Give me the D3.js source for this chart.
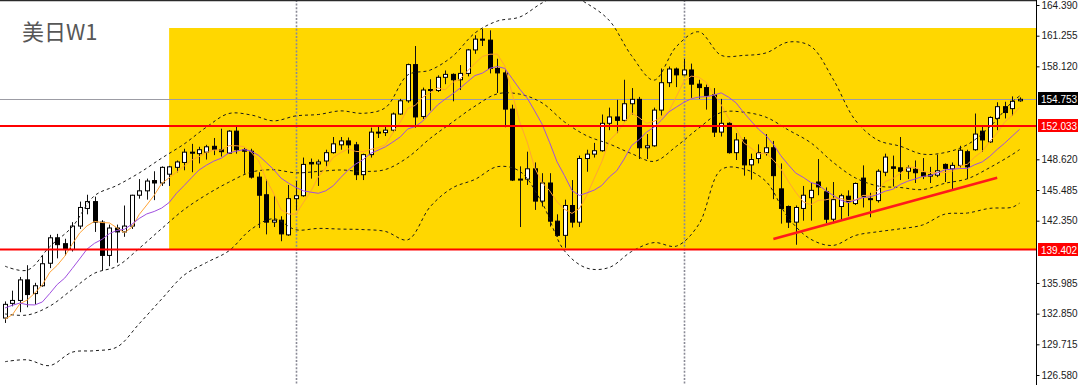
<!DOCTYPE html>
<html>
<head>
<meta charset="utf-8">
<script src="https://cdn.jsdelivr.net/npm/d3@7"></script>
<style>
  html, body { margin: 0; padding: 0; background: #ffffff; }
  svg { display: block; }
</style>
</head>
<body>
<svg id="chart" width="1080" height="385"></svg>
<script>
/*****************************************************************************
 *  USDJPY weekly candles (one bar per week, Apr 2023 -> Nov 2025)
 */
var opens = [132.4, 133.9, 134.2, 136.3, 134.9, 135.7, 138.0, 140.6, 140.0, 139.4,
    141.8, 143.6, 144.3, 142.2, 138.8, 141.6, 141.2, 141.8, 144.95, 145.4,
    146.45, 146.2, 147.1, 147.8, 148.3, 149.35, 149.2, 149.35, 149.95, 149.6,
    149.25, 151.5, 149.6, 149.45, 146.8, 145.0, 142.2, 142.4, 140.9, 144.6,
    144.9, 148.3, 148.15, 148.45, 149.3, 150.1, 150.5, 150.1, 147.05, 149.1,
    151.4, 151.35, 151.6, 153.25, 154.6, 158.3, 153.0, 155.75, 155.65, 157.0,
    157.3, 156.75, 157.4, 159.8, 160.9, 160.8, 157.9, 157.45, 153.75, 146.5,
    146.6, 147.65, 144.35, 146.2, 142.3, 140.85, 143.9, 142.2, 148.7, 149.15,
    149.5, 152.3, 152.95, 152.6, 154.3, 154.75, 149.8, 150.0, 153.65, 156.45,
    157.85, 157.25, 157.75, 156.3, 155.95, 155.2, 151.4, 152.3, 149.3, 150.6,
    148.05, 148.7, 149.3, 149.8, 145.6, 143.8, 142.2, 143.6, 144.7, 146.3,
    145.3, 142.5, 143.8, 144.85, 144.1, 146.7, 144.6, 144.4, 147.3, 147.85,
    147.75, 147.4, 147.6, 147.25, 146.9, 147.0, 148.1, 147.65, 148.0, 149.4,
    149.6, 151.5, 150.4, 152.8, 154.0, 153.8, 154.6];
var highs = [134.1, 135.2, 136.6, 137.8, 136.0, 138.8, 140.9, 141.0, 140.5, 142.2,
    144.3, 145.0, 144.8, 142.4, 141.95, 141.95, 143.9, 145.0, 146.6, 146.65,
    147.4, 147.9, 147.95, 148.5, 149.7, 150.2, 149.9, 150.1, 150.8, 151.75,
    151.6, 151.95, 149.8, 149.7, 147.3, 146.6, 144.95, 142.8, 146.0, 146.4,
    148.8, 148.7, 148.6, 149.6, 150.9, 150.9, 150.85, 150.4, 149.2, 151.86,
    151.97, 151.95, 153.4, 154.8, 158.4, 160.2, 155.95, 156.8, 157.2, 157.7,
    157.4, 158.25, 159.9, 161.3, 161.95, 161.8, 158.9, 157.8, 154.2, 147.9,
    149.4, 148.3, 147.2, 147.2, 143.0, 144.5, 146.5, 149.0, 149.6, 150.3,
    153.2, 153.9, 154.7, 156.75, 155.9, 155.0, 151.2, 153.9, 157.9, 158.1,
    158.0, 158.88, 158.4, 156.75, 156.25, 155.9, 154.8, 152.4, 151.3, 150.9,
    149.2, 150.15, 151.2, 150.5, 148.2, 143.9, 143.9, 145.9, 146.2, 148.65,
    145.75, 146.3, 145.1, 145.45, 146.25, 148.0, 145.2, 147.6, 149.2, 149.0,
    150.9, 148.0, 148.5, 148.75, 147.85, 149.1, 148.2, 148.3, 150.0, 149.6,
    153.3, 152.0, 153.0, 154.45, 154.5, 155.05, 154.95];
var lows = [131.9, 133.6, 133.0, 133.5, 133.8, 135.6, 137.5, 138.5, 138.8, 139.2,
    141.5, 143.0, 141.2, 137.25, 137.7, 138.05, 140.7, 141.5, 144.6, 144.5,
    144.45, 145.9, 145.9, 147.3, 147.5, 147.3, 148.2, 148.6, 149.05, 148.9,
    149.2, 149.2, 147.15, 146.65, 141.6, 140.95, 141.7, 140.25, 140.8, 143.4,
    144.8, 146.65, 145.9, 147.85, 149.2, 149.6, 149.2, 146.5, 146.5, 148.8,
    150.8, 151.0, 151.4, 153.15, 154.4, 151.86, 152.75, 153.6, 155.5, 156.3,
    154.55, 155.7, 157.1, 159.4, 160.2, 157.4, 155.4, 151.9, 146.4, 141.7,
    146.0, 143.45, 143.8, 141.75, 140.7, 139.58, 141.65, 141.7, 147.35, 148.8,
    149.4, 151.6, 151.3, 152.5, 153.2, 148.65, 148.65, 149.9, 153.1, 156.0,
    156.0, 157.2, 154.9, 154.8, 153.7, 150.9, 150.95, 149.2, 148.55, 146.95,
    146.55, 148.2, 149.0, 144.55, 142.05, 141.6, 139.89, 142.35, 142.35, 144.95,
    142.1, 142.1, 142.4, 142.8, 143.95, 143.7, 142.7, 144.2, 146.9, 145.85,
    146.5, 146.6, 146.2, 146.6, 146.2, 146.8, 146.3, 145.5, 147.8, 146.6,
    149.5, 149.4, 150.3, 151.6, 152.8, 153.1, 154.5];
var closes = [133.8, 134.2, 136.3, 134.8, 135.7, 137.95, 140.6, 139.9, 139.4, 141.8,
    143.7, 144.3, 142.2, 138.8, 141.6, 141.2, 141.8, 144.95, 145.4, 146.4,
    146.2, 147.8, 147.85, 148.35, 149.35, 149.3, 149.6, 149.9, 149.65, 149.4,
    151.5, 149.6, 149.45, 146.8, 144.95, 142.2, 142.4, 141.0, 144.6, 144.9,
    148.1, 148.15, 148.35, 149.3, 150.2, 150.5, 150.1, 147.05, 149.1, 151.4,
    151.35, 151.6, 153.25, 154.6, 158.3, 152.95, 155.7, 155.65, 157.0, 157.3,
    156.75, 157.4, 159.8, 160.9, 160.8, 157.9, 157.45, 153.75, 146.5, 146.6,
    147.65, 144.35, 146.2, 142.3, 140.85, 143.9, 142.2, 148.7, 149.15, 149.5,
    152.3, 152.95, 152.6, 154.3, 154.75, 149.8, 150.0, 153.65, 156.45, 157.85,
    157.25, 157.75, 156.3, 155.95, 155.15, 151.4, 152.3, 149.3, 150.6, 148.05,
    148.6, 149.3, 149.8, 146.95, 143.6, 142.2, 143.7, 144.95, 145.45, 145.8,
    142.5, 144.5, 144.9, 144.3, 146.15, 144.8, 144.5, 147.4, 148.85, 147.7,
    147.4, 147.75, 147.25, 146.9, 147.05, 147.45, 147.7, 148.0, 149.55, 147.85,
    151.2, 150.6, 152.9, 154.0, 153.4, 154.55, 154.753];

// Moving averages drawn on the chart (orange = fast, purple = slow)
var maFast = [132.28, 132.75, 133.86, 134.25, 134.96, 135.79, 137.07, 137.79, 138.71, 139.93,
    141.08, 141.82, 142.28, 142.16, 142.12, 141.62, 141.12, 141.67, 142.99, 143.95,
    144.95, 146.15, 146.73, 147.32, 147.91, 148.53, 148.89, 149.30, 149.56, 149.57,
    150.01, 150.01, 149.92, 149.35, 148.46, 146.60, 145.16, 143.47, 143.03, 143.02,
    144.20, 145.35, 146.82, 147.76, 148.82, 149.30, 149.69, 149.43, 149.39, 149.63,
    149.80, 150.10, 151.34, 152.44, 153.82, 154.14, 154.96, 155.44, 155.92, 155.72,
    156.48, 156.82, 157.65, 158.43, 159.13, 159.36, 159.37, 158.16, 155.28, 152.44,
    150.39, 147.77, 146.26, 145.42, 144.27, 143.52, 143.09, 143.59, 144.96, 146.69,
    148.37, 150.52, 151.30, 152.33, 153.38, 152.88, 152.29, 152.50, 152.93, 153.55,
    155.04, 156.59, 157.12, 157.02, 156.48, 155.31, 154.22, 152.82, 151.75, 150.33,
    149.77, 149.17, 149.27, 148.54, 147.65, 146.37, 145.25, 144.28, 143.98, 144.42,
    144.48, 144.64, 144.63, 144.40, 144.47, 144.93, 144.93, 145.43, 146.34, 146.65,
    147.17, 147.82, 147.79, 147.40, 147.27, 147.28, 147.27, 147.42, 147.95, 148.11,
    148.86, 149.44, 150.42, 151.31, 152.42, 153.09, 153.92];
var maSlow = [133.43, 133.71, 133.93, 133.76, 133.74, 134.04, 134.91, 135.83, 136.48, 137.45,
    138.44, 139.45, 140.04, 140.44, 141.03, 141.35, 141.47, 141.98, 142.58, 143.04,
    143.29, 143.64, 144.20, 145.16, 145.93, 146.74, 147.52, 148.02, 148.44, 148.74,
    149.27, 149.45, 149.61, 149.46, 149.02, 148.31, 147.59, 146.70, 146.19, 145.74,
    145.40, 145.26, 145.15, 145.40, 145.92, 146.75, 147.52, 148.13, 148.58, 149.23,
    149.55, 149.90, 150.39, 150.92, 151.73, 151.97, 152.53, 153.39, 154.18, 154.77,
    155.31, 155.89, 156.55, 157.18, 157.43, 157.92, 158.10, 157.91, 156.86, 155.79,
    154.88, 153.57, 152.21, 150.35, 148.36, 146.96, 145.43, 144.93, 145.19, 145.48,
    145.95, 146.81, 147.45, 148.65, 150.04, 150.63, 151.41, 151.90, 152.63, 153.47,
    153.96, 154.44, 154.81, 154.98, 155.02, 155.18, 155.41, 154.97, 154.39, 153.41,
    152.54, 151.70, 151.05, 150.15, 148.99, 148.07, 147.21, 146.78, 146.26, 146.04,
    145.43, 144.95, 144.46, 144.19, 144.45, 144.71, 144.79, 145.03, 145.37, 145.56,
    146.05, 146.38, 146.61, 146.87, 146.96, 147.23, 147.55, 147.61, 147.68, 147.69,
    148.07, 148.36, 148.92, 149.63, 150.27, 150.98, 151.68];

// Bollinger band readings, every third bar
var bandBars = [0, 3, 6, 9, 12, 15, 18, 21, 24, 27, 30, 33, 36, 39, 42, 45, 48, 51, 54, 57,
    60, 63, 66, 69, 72, 75, 78, 81, 84, 87, 90, 93, 96, 99, 102, 105, 108, 111, 114, 117,
    120, 123, 126, 129, 132, 135, 136];
var bandUpper = [137.70, 137.29, 139.70, 141.71, 144.90, 145.95, 147.23, 148.74, 150.18, 151.91,
    153.30, 153.15, 152.55, 153.06, 153.20, 153.57, 153.32, 153.90, 157.24, 157.74,
    159.15, 161.53, 162.75, 163.16, 164.60, 165.62, 164.54, 162.81, 159.20, 156.71,
    160.15, 161.65, 159.25, 159.24, 159.49, 160.60, 160.18, 156.82, 152.60, 150.58,
    149.96, 149.15, 149.31, 150.12, 151.93, 154.48, 155.09];
var bandMid = [132.82, 132.71, 133.62, 135.31, 136.98, 137.69, 139.53, 141.54, 143.48, 145.00,
    146.28, 147.31, 147.55, 147.24, 147.38, 147.53, 147.38, 147.58, 148.82, 150.76,
    152.43, 154.05, 155.31, 155.28, 154.38, 152.44, 151.02, 150.19, 149.20, 148.41,
    149.95, 151.81, 153.41, 153.44, 152.93, 151.62, 150.32, 148.32, 146.72, 145.90,
    145.74, 145.53, 146.17, 146.63, 147.77, 149.10, 149.61];
var bandLower = [127.94, 128.13, 127.54, 128.91, 129.06, 129.43, 131.83, 134.34, 136.78, 138.07,
    139.26, 141.47, 142.55, 141.42, 141.56, 141.49, 141.44, 141.25, 140.40, 143.78,
    145.71, 146.57, 147.87, 147.40, 144.16, 139.26, 137.50, 137.57, 139.20, 140.11,
    139.75, 141.97, 147.57, 147.64, 146.37, 142.64, 140.46, 139.82, 140.84, 141.22,
    141.52, 141.91, 143.02, 143.13, 143.61, 143.72, 144.14];

// Axis labels (the ones hidden behind price tags are left out), levels and objects
var priceTicks = [164.390, 161.255, 158.120, 148.620, 145.485, 142.350,
    135.985, 132.850, 129.715, 126.580];
var levelPrices = [152.033, 139.402];
var lastPrice = 154.753;
var zoneBars = [22, 136];
var zonePrices = [162.04, 139.402];
var separatorBars = [39, 91];
var trendBars = [103, 133];
var trendPrices = [140.48, 146.74];
var chartTitle = "美日W1";

/*****************************************************************************
 *  Layout
 */
var CANVAS_WIDTH = 1080;
var CANVAS_HEIGHT = 385;
var PLOT_RIGHT = 1036;
var FIRST_BAR_X = 5;
var BAR_STEP = 7.46;
var BODY_WIDTH = 5;
var ZONE_COLOR = "#ffd700";
var LEVEL_COLOR = "#ff0000";
var FAST_MA_COLOR = "#ffa436";
var SLOW_MA_COLOR = "#a04fe0";
var BAND_COLOR = "#1a1a1a";
var AXIS_FONT = "'Liberation Sans', Arial, sans-serif";

var svg = d3.select("#chart");

var xScale = d3.scaleLinear()
    .domain([0, closes.length - 1])
    .range([FIRST_BAR_X, FIRST_BAR_X + (closes.length - 1) * BAR_STEP]);

var yScale = d3.scaleLinear()
    .domain([126.58, 164.39])
    .range([375, 5]);

function px(v) {
    return Math.round(v) + 0.5;
}

svg.append("rect")
    .attr("width", CANVAS_WIDTH)
    .attr("height", CANVAS_HEIGHT)
    .attr("fill", "#ffffff");

svg.append("clipPath")
    .attr("id", "plot-clip")
    .append("rect")
    .attr("x", 0)
    .attr("y", 0)
    .attr("width", PLOT_RIGHT)
    .attr("height", CANVAS_HEIGHT);

var plot = svg.append("g").attr("clip-path", "url(#plot-clip)");

// Render yellow range box
plot.append("rect")
    .attr("class", "zone")
    .attr("x", xScale(zoneBars[0]))
    .attr("y", yScale(zonePrices[0]))
    .attr("width", PLOT_RIGHT - xScale(zoneBars[0]))
    .attr("height", yScale(zonePrices[1]) - yScale(zonePrices[0]))
    .attr("fill", ZONE_COLOR);

// Render period separators
plot.selectAll(".separator")
    .data(separatorBars)
    .enter()
    .append("line")
    .attr("class", "separator")
    .attr("x1", d => px(xScale(d)))
    .attr("x2", d => px(xScale(d)))
    .attr("y1", 0)
    .attr("y2", CANVAS_HEIGHT)
    .attr("stroke", "#8a8a96")
    .attr("stroke-width", 1.6)
    .attr("stroke-dasharray", "2,1.6");

// Render last price line
plot.append("line")
    .attr("x1", 0)
    .attr("x2", PLOT_RIGHT)
    .attr("y1", px(yScale(lastPrice)))
    .attr("y2", px(yScale(lastPrice)))
    .attr("stroke", "#9c9ca4")
    .attr("stroke-width", 1);

// Render candles
var candles = closes.map((c, i) => ({ i: i, o: opens[i], h: highs[i], l: lows[i], c: c }));

plot.selectAll(".wick")
    .data(candles)
    .enter()
    .append("line")
    .attr("class", "wick")
    .attr("x1", d => px(xScale(d.i)))
    .attr("x2", d => px(xScale(d.i)))
    .attr("y1", d => yScale(d.h))
    .attr("y2", d => yScale(d.l))
    .attr("stroke", "#111111")
    .attr("stroke-width", 1);

plot.selectAll(".body")
    .data(candles)
    .enter()
    .append("rect")
    .attr("class", "body")
    .attr("x", d => Math.round(xScale(d.i)) - 2 + 0.5)
    .attr("y", d => yScale(Math.max(d.o, d.c)))
    .attr("width", BODY_WIDTH - 1)
    .attr("height", d => Math.max(1, Math.abs(yScale(d.o) - yScale(d.c))))
    .attr("fill", d => d.c >= d.o ? "#ffffff" : "#000000")
    .attr("stroke", "#000000")
    .attr("stroke-width", 1);

// Render Bollinger bands
var bandLine = d3.line()
    .x(d => xScale(d[0]))
    .y(d => yScale(d[1]))
    .curve(d3.curveCatmullRom);

[bandUpper, bandMid, bandLower].forEach(function (band) {
    plot.append("path")
        .attr("class", "band")
        .attr("d", bandLine(bandBars.map((b, k) => [b, band[k]])))
        .attr("fill", "none")
        .attr("stroke", BAND_COLOR)
        .attr("stroke-width", 1)
        .attr("stroke-dasharray", "3,3");
});

// Render moving averages
var maLine = d3.line()
    .x((d, i) => xScale(i))
    .y(d => yScale(d));

plot.append("path")
    .attr("d", maLine(maFast))
    .attr("fill", "none")
    .attr("stroke", FAST_MA_COLOR)
    .attr("stroke-width", 1);

plot.append("path")
    .attr("d", maLine(maSlow))
    .attr("fill", "none")
    .attr("stroke", SLOW_MA_COLOR)
    .attr("stroke-width", 1);

// Render horizontal levels
plot.selectAll(".level")
    .data(levelPrices)
    .enter()
    .append("line")
    .attr("class", "level")
    .attr("x1", 0)
    .attr("x2", PLOT_RIGHT)
    .attr("y1", d => yScale(d))
    .attr("y2", d => yScale(d))
    .attr("stroke", LEVEL_COLOR)
    .attr("stroke-width", 2);

// Render trend line
plot.append("line")
    .attr("x1", xScale(trendBars[0]))
    .attr("y1", yScale(trendPrices[0]))
    .attr("x2", xScale(trendBars[1]))
    .attr("y2", yScale(trendPrices[1]))
    .attr("stroke", "#ff1a1a")
    .attr("stroke-width", 2.5);

// Render frame top
svg.append("line")
    .attr("x1", 0)
    .attr("x2", PLOT_RIGHT)
    .attr("y1", 0.5)
    .attr("y2", 0.5)
    .attr("stroke", "#2a2a2a")
    .attr("stroke-width", 1.5);

// Render price axis
var axis = svg.append("g")
    .attr("transform", "translate(" + (PLOT_RIGHT + 0.5) + ",0)")
    .call(d3.axisRight(yScale)
        .tickValues(priceTicks)
        .tickSize(3)
        .tickPadding(2)
        .tickFormat(d => d.toFixed(3)));

axis.select(".domain")
    .attr("d", "M0,0V" + CANVAS_HEIGHT)
    .attr("stroke", "#000000");
axis.selectAll(".tick line").attr("stroke", "#000000");
axis.selectAll(".tick text")
    .attr("fill", "#1a1a1a")
    .style("font-family", AXIS_FONT)
    .style("font-size", "10px");

// Render price tags on the axis
var tags = [{ p: lastPrice, fill: "#000000" }]
    .concat(levelPrices.map(p => ({ p: p, fill: LEVEL_COLOR })));

var tag = svg.selectAll(".tag")
    .data(tags)
    .enter()
    .append("g")
    .attr("class", "tag")
    .attr("transform", d => "translate(" + (PLOT_RIGHT + 2) + "," + Math.round(yScale(d.p)) + ")");

tag.append("rect")
    .attr("x", 0)
    .attr("y", -7)
    .attr("width", 40)
    .attr("height", 13)
    .attr("fill", d => d.fill);

tag.append("text")
    .attr("x", 3)
    .attr("y", 3.5)
    .attr("fill", "#ffffff")
    .style("font-family", AXIS_FONT)
    .style("font-size", "10px")
    .text(d => d.p.toFixed(3));

// Render title
svg.append("text")
    .attr("x", 22)
    .attr("y", 40)
    .attr("fill", "#575757")
    .style("font-family", "'Noto Sans CJK SC', sans-serif")
    .style("font-size", "22px")
    .text(chartTitle);
</script>
</body>
</html>
